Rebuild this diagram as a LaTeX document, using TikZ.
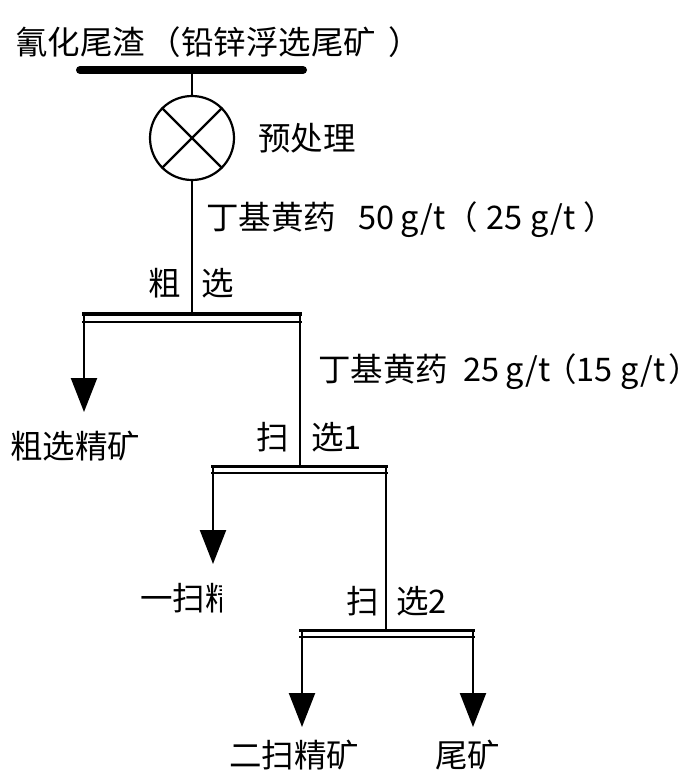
\documentclass[tikz,border=0pt]{standalone}
\usepackage{fontspec}
\setmainfont{Noto Sans CJK SC}
\usetikzlibrary{arrows.meta}
\begin{document}
\begin{tikzpicture}[x=1pt,y=-1pt,
  txt/.style={anchor=west,inner sep=0pt,font=\fontsize{32.5}{32.5}\selectfont},
  flow/.style={line width=2.2pt},
  arr/.style={flow,-{Triangle[length=34pt,width=26pt]}},
  barthick/.style={line width=4pt},
  barthin/.style={line width=1.5pt}]
\useasboundingbox (0,0) rectangle (700,780);
% feed
\node[txt] (title) at (15,42) {氰化尾渣\makebox[36pt][r]{（}铅锌浮选尾矿\hspace{12pt}）};
\coordinate (b0L) at (80,70);
\coordinate (b0R) at (303,70);
\coordinate (b0M) at (192,70);
\draw[line width=8pt,line cap=round] (b0L) -- (b0R);
\node[draw,circle,line width=2.2pt,minimum size=84pt,inner sep=0pt] (pre) at (192,138) {};
\draw[line width=2.2pt] (pre.north west) -- (pre.south east) (pre.north east) -- (pre.south west);
\node[txt] (pretxt) at (258,138) {预处理};
\draw[flow] (b0M) -- (pre.north);
% rougher
\coordinate (b1M) at (192,314);
\coordinate (b1L) at (82,314);
\coordinate (b1R) at (302,314);
\coordinate (b1l) at (82,322);
\coordinate (b1r) at (302,322);
\draw[flow] (pre.south) -- (b1M);
\node[txt] (reag1) at (206,220) {丁基黄药\hspace{22pt}50\hspace{6pt}g/t（\hspace{8pt}25\hspace{8pt}g/t\hspace{8pt}）};
\node[txt] (r1a) at (148,283) {粗};
\node[txt] (r1b) at (201,283) {选};
\draw[barthick] (b1L) -- (b1R);
\draw[barthin] (b1l) -- (b1r);
\coordinate (c1) at (84,412);
\draw[arr] (84,314) -- (c1);
\node[txt] (c1txt) at (10,446) {粗选精矿};
% scavenger 1
\coordinate (s1T) at (300,314);
\coordinate (b2M) at (300,466);
\draw[flow] (s1T) -- (b2M);
\node[txt] (reag2) at (318,372) {丁基黄药\hspace{15pt}25\hspace{6pt}g/t\makebox[26pt][r]{（}15\hspace{8pt}g/t\hspace{2pt}）};
\node[txt] (s1a) at (256,437) {扫};
\node[txt] (s1b) at (311,437) {选1};
\coordinate (b2L) at (211,466);
\coordinate (b2R) at (388,466);
\coordinate (b2l) at (211,473);
\coordinate (b2r) at (388,473);
\draw[barthick,line width=3pt] (b2L) -- (b2R);
\draw[barthin] (b2l) -- (b2r);
\coordinate (c2) at (213,564);
\draw[arr] (213,466) -- (c2);
\begin{scope}
\clip (130,570) rectangle (221,625);
\node[txt] (c2txt) at (140,598) {一扫精矿};
\end{scope}
% scavenger 2
\coordinate (s2T) at (386,466);
\coordinate (b3M) at (386,630);
\draw[flow] (s2T) -- (b3M);
\node[txt] (s2a) at (346,601) {扫};
\node[txt] (s2b) at (396,601) {选2};
\coordinate (b3L) at (299,630);
\coordinate (b3R) at (475,630);
\coordinate (b3l) at (299,637);
\coordinate (b3r) at (475,637);
\draw[barthick,line width=3pt] (b3L) -- (b3R);
\draw[barthin] (b3l) -- (b3r);
\coordinate (c3) at (302,727);
\coordinate (c4) at (473,727);
\draw[arr] (302,630) -- (c3);
\draw[arr] (473,630) -- (c4);
\node[txt] (c3txt) at (229,755) {二扫精矿};
\node[txt] (c4txt) at (435,755) {尾矿};
\end{tikzpicture}
\end{document}
